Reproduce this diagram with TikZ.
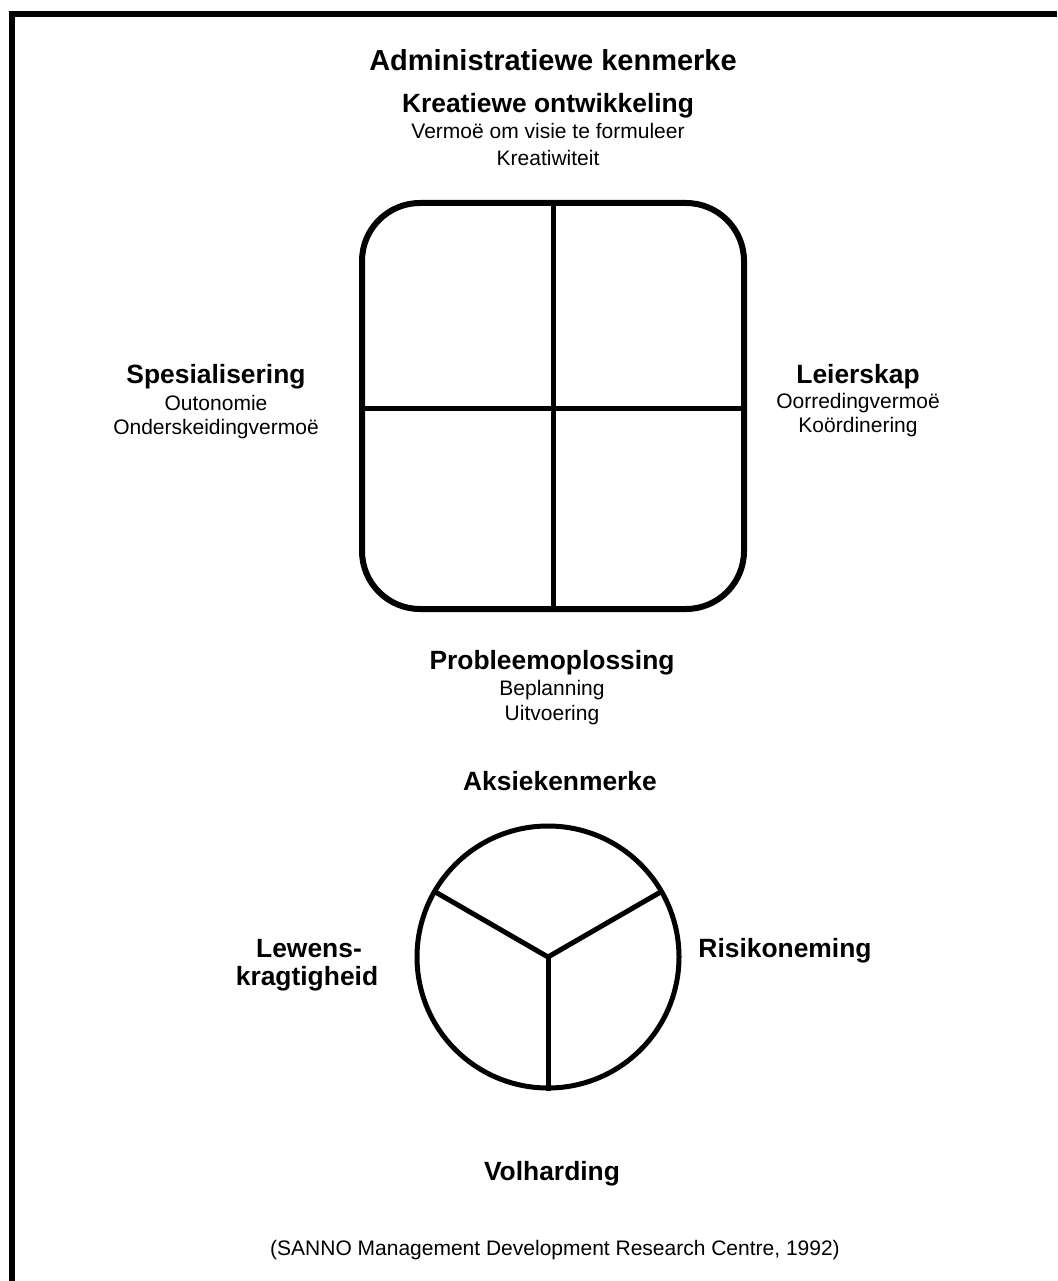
\documentclass[tikz,border=0pt]{standalone}
\usepackage{fontspec}
\setmainfont{Liberation Sans}
\begin{document}
\begin{tikzpicture}[x=1pt,y=-1pt,
  title/.style={font=\fontsize{29}{32}\selectfont\bfseries, anchor=base, inner sep=0pt},
  heading/.style={font=\fontsize{26.4}{28}\selectfont\bfseries, anchor=base, inner sep=0pt},
  detail/.style={font=\fontsize{21}{24}\selectfont, anchor=base, inner sep=0pt},
  outline/.style={line width=6pt},
  divider/.style={line width=5pt}]
\useasboundingbox (0,0) rectangle (1057,1281);

% page frame (top and left edges)
\draw[line width=6pt] (1057,14) -- (12,14) -- (12,1281);

% administrative characteristics
\node[title] (admin) at (553,71) {Administratiewe kenmerke};

\node[heading] (kreatief) at (548,113) {Kreatiewe ontwikkeling};
\node[detail]  (visie)    at (548,139) {Vermoë om visie te formuleer};
\node[detail]  (kreatiw)  at (548,166) {Kreatiwiteit};

\node[heading] (spes)  at (216,383) {Spesialisering};
\node[detail]  (outo)  at (216,410) {Outonomie};
\node[detail]  (onder) at (216,434) {Onderskeidingvermoë};

\node[heading] (leier) at (858,383) {Leierskap};
\node[detail]  (oorr)  at (858,408) {Oorredingvermoë};
\node[detail]  (koord) at (858,432) {Koördinering};

\node[heading] (prob)  at (552,669) {Probleemoplossing};
\node[detail]  (bepl)  at (552,695) {Beplanning};
\node[detail]  (uitv)  at (552,720) {Uitvoering};

% four-quadrant square
\coordinate (sqnw) at (362,203);
\coordinate (sqse) at (744,609);
\draw[outline, rounded corners=58pt] (sqnw) rectangle (sqse);
\draw[divider] (553,203) -- (553,609);
\draw[divider] (362,408) -- (744,408);

% action characteristics
\node[heading] (aksie) at (560,790) {Aksiekenmerke};

\coordinate (hub) at (548,957);
\draw[divider] (hub) circle (131);
\draw[divider] (hub) -- ++(210:131);
\draw[divider] (hub) -- ++(330:131);
\draw[divider] (hub) -- ++(90:134);

\node[heading] (lewens) at (309,957) {Lewens-};
\node[heading] (krag)   at (307,985) {kragtigheid};
\node[heading] (risiko) at (785,957) {Risikoneming};
\node[heading] (volh)   at (552,1180) {Volharding};

\node[detail] (bron) at (555,1255) {(SANNO Management Development Research Centre, 1992)};
\end{tikzpicture}
\end{document}
